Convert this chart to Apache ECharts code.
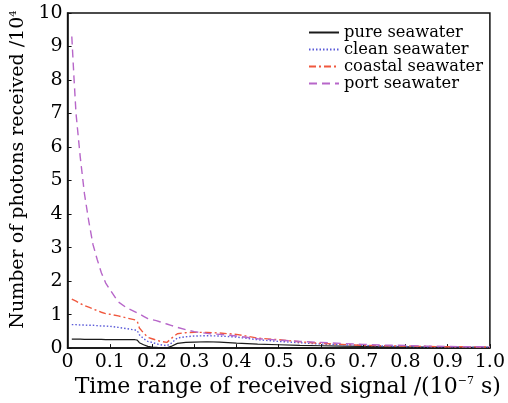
<!DOCTYPE html>
<html>
<head>
<meta charset="utf-8">
<script src="https://cdn.jsdelivr.net/npm/echarts@6/dist/echarts.min.js"></script>
<style>
  html, body { margin: 0; padding: 0; background: #fff; }
  #chart { width: 508px; height: 403px; }
</style>
</head>
<body>
<div id="chart"></div>
<script>
// time (1e-7 s)
const times = [0.01, 0.015, 0.02, 0.03, 0.04, 0.05, 0.06, 0.07, 0.08, 0.09, 0.1,
  0.12, 0.14, 0.16, 0.165, 0.17, 0.18, 0.19, 0.2, 0.21, 0.22, 0.235, 0.245, 0.26,
  0.28, 0.3, 0.33, 0.36, 0.4, 0.45, 0.5, 0.55, 0.6, 0.65, 0.7, 0.75, 0.8, 0.85,
  0.9, 0.95, 1.0];

// photons received (1e4)
const pureWater = [0.27, 0.27, 0.27, 0.27, 0.26, 0.26, 0.26, 0.26, 0.26, 0.25, 0.25,
  0.25, 0.25, 0.25, 0.24, 0.16, 0.10, 0.05, 0.03, 0.02, 0.01, 0.01, 0.05, 0.14,
  0.17, 0.18, 0.19, 0.18, 0.15, 0.12, 0.10, 0.08, 0.07, 0.06, 0.05, 0.04, 0.04, 0.03,
  0.03, 0.02, 0.02];
const cleanWater = [0.70, 0.70, 0.70, 0.69, 0.69, 0.68, 0.68, 0.67, 0.66, 0.66, 0.65,
  0.62, 0.58, 0.54, 0.52, 0.40, 0.28, 0.20, 0.17, 0.13, 0.10, 0.07, 0.14, 0.30,
  0.34, 0.36, 0.37, 0.36, 0.33, 0.25, 0.20, 0.16, 0.12, 0.10, 0.08, 0.06, 0.05, 0.04,
  0.04, 0.03, 0.03];
const coastalWater = [1.46, 1.43, 1.40, 1.33, 1.27, 1.22, 1.17, 1.12, 1.07, 1.03, 1.01,
  0.96, 0.90, 0.84, 0.80, 0.60, 0.45, 0.32, 0.28, 0.24, 0.20, 0.17, 0.28, 0.43,
  0.46, 0.47, 0.47, 0.45, 0.41, 0.30, 0.25, 0.19, 0.14, 0.11, 0.08, 0.07, 0.06, 0.05,
  0.04, 0.04, 0.03];
const portWater = [9.30, 8.10, 7.00, 5.70, 4.60, 3.80, 3.10, 2.65, 2.25, 1.95, 1.75,
  1.38, 1.20, 1.08, 1.05, 1.02, 0.95, 0.88, 0.85, 0.82, 0.78, 0.72, 0.68, 0.62,
  0.55, 0.49, 0.44, 0.41, 0.36, 0.28, 0.24, 0.20, 0.17, 0.14, 0.11, 0.09, 0.08, 0.06,
  0.05, 0.04, 0.04];

const seriesNames = ['pure seawater', 'clean seawater', 'coastal seawater', 'port seawater'];

const font = 'DejaVu Serif';
const ink = '#000';
const pairs = vals => times.map((t, i) => [t, vals[i]]);

const mkLine = (name, vals, color, type, width) => ({
  name,
  type: 'line',
  data: pairs(vals),
  showSymbol: false,
  symbol: 'none',
  lineStyle: { color, type, width },
  itemStyle: { color },
  z: 3
});

const chart = echarts.init(document.getElementById('chart'));
chart.setOption({
  animation: false,
  backgroundColor: '#fff',
  grid: {
    left: 62, right: 18, top: 13, bottom: 54,
    show: true, borderColor: '#111', borderWidth: 1.5
  },
  legend: {
    orient: 'vertical',
    left: 308, top: 24,
    padding: 0,
    itemWidth: 30, itemHeight: 10, itemGap: 0,
    itemStyle: { opacity: 0 },
    textStyle: { fontFamily: font, fontSize: 16.3, lineHeight: 17, color: ink },
    data: seriesNames
  },
  xAxis: {
    type: 'value',
    min: 0, max: 1, interval: 0.1,
    name: '{a|Time range of received signal /(10}{s|\u22127}{a| s)}',
    nameLocation: 'middle',
    nameGap: 22,
    nameTextStyle: {
      padding: [0, 0, 0, 18],
      rich: {
        a: { fontFamily: font, fontSize: 22, color: ink },
        s: { fontFamily: font, fontSize: 11, color: ink, padding: [0, 0, 11, 0] }
      }
    },
    axisLine: { lineStyle: { color: '#111', width: 1.5 } },
    axisTick: { inside: true, length: 4, lineStyle: { color: '#111' } },
    splitLine: { show: false },
    axisLabel: {
      fontFamily: font, fontSize: 19, color: ink, margin: 4,
      formatter: v => (v === 0 ? '0' : v.toFixed(1))
    }
  },
  yAxis: {
    type: 'value',
    min: 0, max: 10, interval: 1,
    name: '{a|Number of photons received /10}{s|4}',
    nameLocation: 'middle',
    nameGap: 36,
    nameRotate: 90,
    nameTextStyle: {
      padding: [0, 0, 0, 22],
      rich: {
        a: { fontFamily: font, fontSize: 19, color: ink },
        s: { fontFamily: font, fontSize: 10, color: ink, padding: [0, 0, 10, 0] }
      }
    },
    axisLine: { show: true, lineStyle: { color: '#111', width: 1.5 } },
    axisTick: { show: true, inside: true, length: 4, lineStyle: { color: '#111' } },
    splitLine: { show: false },
    axisLabel: { fontFamily: font, fontSize: 19, color: ink, margin: 5 }
  },
  series: [
    mkLine(seriesNames[0], pureWater, '#1a1a1a', 'solid', 1.2),
    mkLine(seriesNames[1], cleanWater, '#5a5ad8', [1.5, 2], 1.4),
    mkLine(seriesNames[2], coastalWater, '#f0583e', [7, 3, 2, 3], 1.4),
    mkLine(seriesNames[3], portWater, '#b766c9', [8, 5], 1.4)
  ]
});
</script>
</body>
</html>
